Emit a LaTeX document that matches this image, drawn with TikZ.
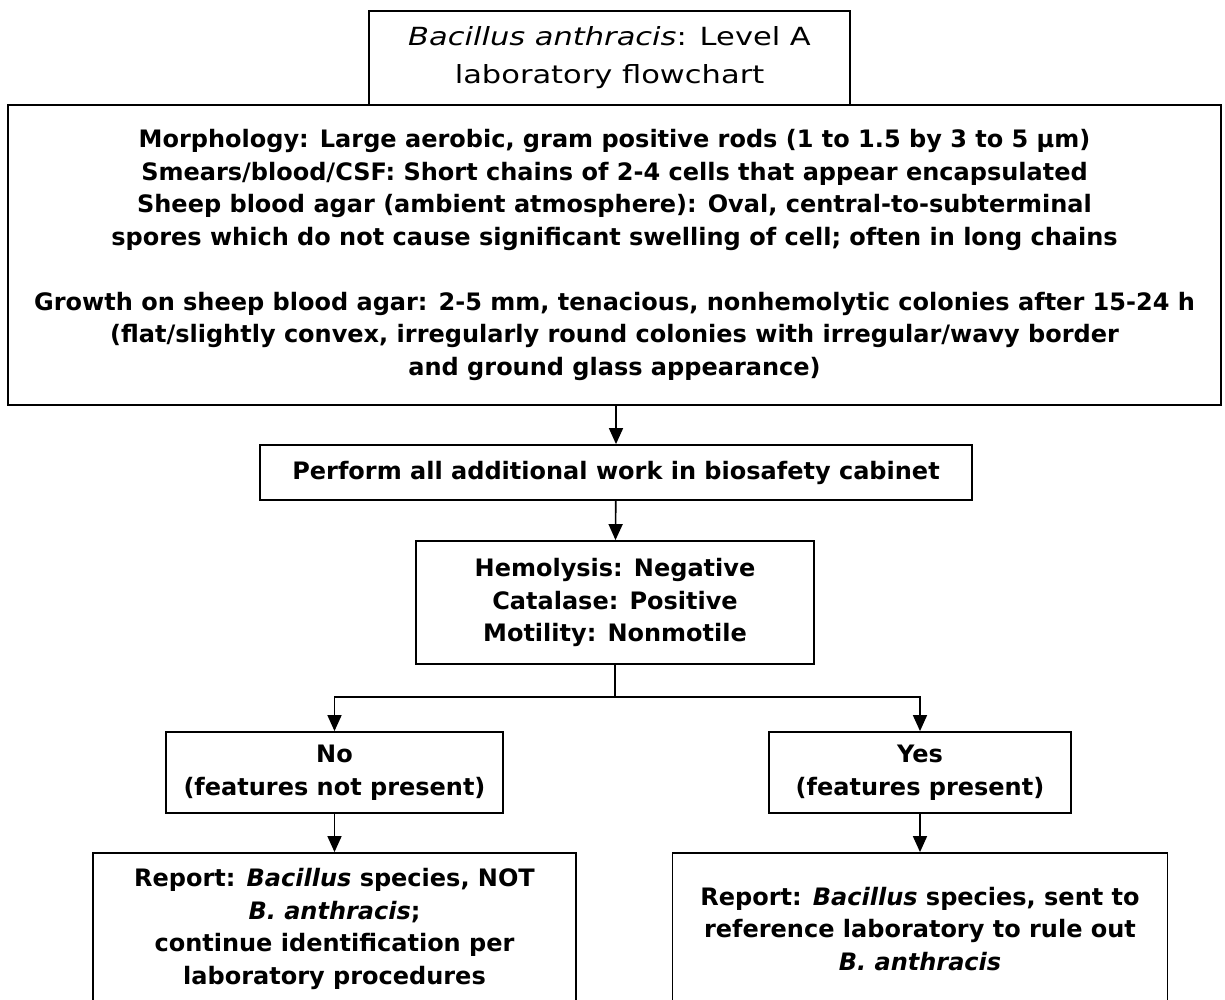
\documentclass[tikz,border=0pt]{standalone}
\usepackage{fontspec}
\setmainfont{DejaVu Sans}
\newfontfamily\headfont[FakeStretch=1.22]{DejaVu Sans}
\usepackage{tikz}
\usetikzlibrary{positioning, calc, arrows.meta}
\tikzset{
  box/.style={draw, line width=1.8pt, rectangle, inner sep=0pt, align=center,
    font=\fontsize{24}{32.5}\selectfont\bfseries},
  headbox/.style={box, font=\headfont\fontsize{25}{38}\selectfont},
}

\begin{document}
\begin{tikzpicture}[>={Triangle[length=16pt, width=14pt]}, x=1pt, y=-1pt, line width=1.6pt]

    \useasboundingbox (0,0) rectangle (1225,1000);

    \draw(609.5,58) node[headbox, minimum width=481, minimum height=94] (head)
    {\textit{Bacillus anthracis}: Level A\\ laboratory flowchart};

    \draw(614.5,255) node[box, minimum width=1213, minimum height=300] (facts)
    {Morphology: Large aerobic, gram positive rods (1 to 1.5 by 3 to 5 µm)\\
    Smears/blood/CSF: Short chains of 2-4 cells that appear encapsulated\\
    Sheep blood agar (ambient atmosphere): Oval, central-to-subterminal\\
    spores which do not cause significant swelling of cell; often in long chains\\[32.5pt]
    Growth on sheep blood agar: 2-5 mm, tenacious, nonhemolytic colonies after 15-24 h\\
    (flat/slightly convex, irregularly round colonies with irregular/wavy border\\
    and ground glass appearance)};

    \draw(616,472.5) node[box, minimum width=712, minimum height=55] (cabinet)
    {Perform all additional work in biosafety cabinet};

    \draw(615,602.5) node[box, minimum width=398, minimum height=123] (tests)
    {Hemolysis: Negative\\ Catalase: Positive\\ Motility: Nonmotile};

    \draw(334.5,772.5) node[box, minimum width=337, minimum height=81] (no)
    {No\\ (features not present)};
    \draw(920,772.5) node[box, minimum width=302, minimum height=81] (yes)
    {Yes\\ (features present)};

    \draw(334.5,929) node[box, minimum width=483, minimum height=152] (notba)
    {Report: \textit{Bacillus} species, NOT\\ \textit{B. anthracis};\\
    continue identification per\\ laboratory procedures};
    \draw(920,929) node[box, minimum width=495, minimum height=152] (refer)
    {Report: \textit{Bacillus} species, sent to\\ reference laboratory to rule out\\
    \textit{B. anthracis}};

    \coordinate (split) at (615,697);

    \draw[->] (cabinet.north |- facts.south) to (cabinet.north);
    \draw[->] (cabinet) to (tests);
    \draw (tests.south) -- (split);
    \draw[->] (split) -| (no.north);
    \draw[->] (split) -| (yes.north);
    \draw[->] (no) to (notba);
    \draw[->] (yes) to (refer);

    \end{tikzpicture}
\end{document}
